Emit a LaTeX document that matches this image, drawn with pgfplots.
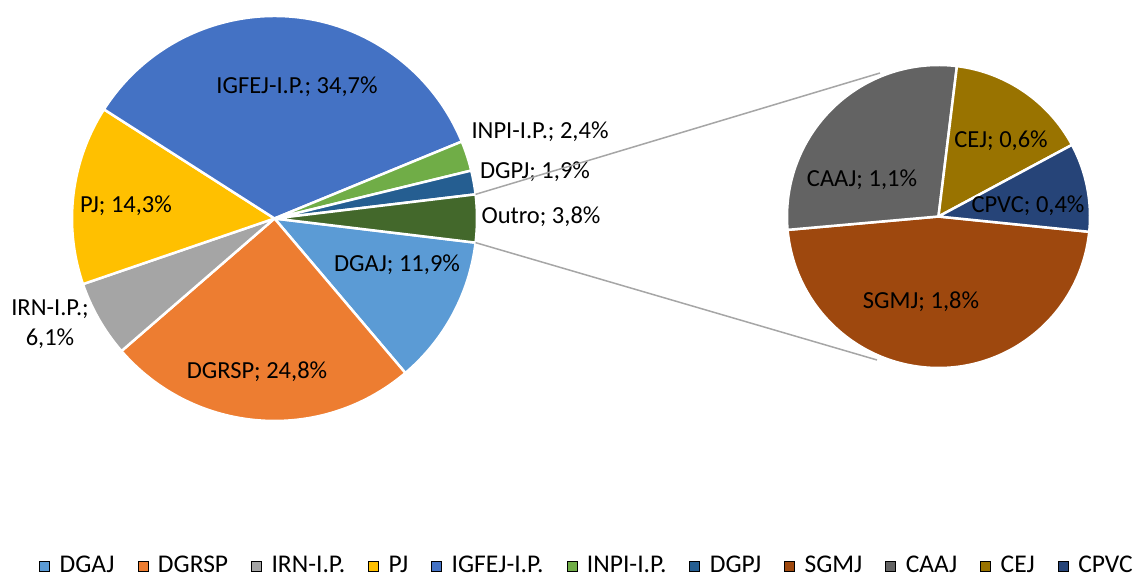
\documentclass[border=0pt]{standalone}
\usepackage{pgfplots}
\usepackage{pgfplotstable}
\pgfplotsset{compat=1.18}
\usepackage{fontspec}
\setmainfont{Carlito}

\definecolor{cDGAJ}{HTML}{5B9BD5}
\definecolor{cDGRSP}{HTML}{ED7D31}
\definecolor{cIRN}{HTML}{A5A5A5}
\definecolor{cPJ}{HTML}{FFC000}
\definecolor{cIGFEJ}{HTML}{4472C4}
\definecolor{cINPI}{HTML}{70AD47}
\definecolor{cDGPJ}{HTML}{255E91}
\definecolor{cOutro}{HTML}{43682B}
\definecolor{cSGMJ}{HTML}{9E480E}
\definecolor{cCAAJ}{HTML}{636363}
\definecolor{cCEJ}{HTML}{997300}
\definecolor{cCPVC}{HTML}{264478}
\definecolor{linegray}{HTML}{A6A6A6}

\newcommand\lbl{\fontsize{24.6}{31}\selectfont}
\newcommand\lgd{\fontsize{25.6}{30}\selectfont}

% value, colour, label centre (pixels from top left), line break in label
\pgfplotstableread{
name       value color  lx  ly  br
DGAJ       11.9  cDGAJ  397 265 0
DGRSP      24.8  cDGRSP 257 372 0
IRN-I.P.   6.1   cIRN   50  339 1
PJ         14.3  cPJ    126 206 0
IGFEJ-I.P. 34.7  cIGFEJ 297 87  0
INPI-I.P.  2.4   cINPI  540 132 0
DGPJ       1.9   cDGPJ  535 172 0
Outro      3.8   cOutro 541 217 0
}\mainpie

\pgfplotstableread{
name  value color  lx   ly  br
SGMJ  1.79  cSGMJ  921  302 0
CAAJ  1.08  cCAAJ  862  180 0
CEJ   0.58  cCEJ   1001 141 0
CPVC  0.36  cCPVC  1028 206 0
}\smallpie

% #1 table, #2 #3 centre (axis cs), #4 radius (bp), #5 start angle
\newcommand\drawpie[5]{%
  \pgfplotstablegetrowsof{#1}%
  \pgfmathtruncatemacro\nrows{\pgfplotsretval-1}%
  \def\total{0}%
  \pgfplotsforeachungrouped \i in {0,...,\nrows}{%
    \pgfplotstablegetelem{\i}{value}\of{#1}%
    \pgfmathsetmacro\total{\total+\pgfplotsretval}%
  }%
  \def\ang{#5}%
  \pgfplotsforeachungrouped \i in {0,...,\nrows}{%
    \pgfplotstablegetelem{\i}{value}\of{#1}\let\val\pgfplotsretval
    \pgfplotstablegetelem{\i}{color}\of{#1}\let\col\pgfplotsretval
    \pgfmathsetmacro\angb{\ang-360*\val/\total}%
    \edef\slice{\noexpand\filldraw[fill=\col,draw=white,line width=2.5bp,line join=round]
      (axis cs:#2,#3) -- ++(\ang:#4bp) arc[start angle=\ang,end angle=\angb,radius=#4bp] -- cycle;}%
    \slice
    \let\ang\angb
  }%
  \pgfplotsforeachungrouped \i in {0,...,\nrows}{%
    \pgfplotstablegetelem{\i}{value}\of{#1}\let\val\pgfplotsretval
    \pgfplotstablegetelem{\i}{name}\of{#1}\let\nm\pgfplotsretval
    \pgfplotstablegetelem{\i}{lx}\of{#1}\let\lx\pgfplotsretval
    \pgfplotstablegetelem{\i}{ly}\of{#1}\let\ly\pgfplotsretval
    \pgfplotstablegetelem{\i}{br}\of{#1}\let\br\pgfplotsretval
    \pgfmathsetmacro\by{569-\ly}%
    \edef\lab{\noexpand\node[font=\noexpand\lbl,align=center,anchor=base,inner sep=0pt]
      at (axis cs:\lx,\by) {\nm;\ifnum\br=1 \noexpand\\\else\space\fi
      \noexpand\pgfmathprintnumber[fixed,fixed zerofill,precision=1,use comma,assume math mode=true]{\val}\noexpand\%};}%
    \lab
  }%
}

\begin{document}
\begin{tikzpicture}
\begin{axis}[
  width=1133bp, height=576bp, scale only axis,
  xmin=0, xmax=1133, ymin=0, ymax=576,
  hide axis, clip=false,
  legend image code/.code={\fill[#1] (0bp,-6bp) rectangle (10bp,4bp);},
  legend style={at={(axis cs:586,11)}, anchor=center, draw=none, fill=none,
    font=\lgd, legend columns=-1,
    nodes={inner xsep=0pt, inner ysep=0pt},
    /tikz/every odd column/.append style={column sep=10bp},
    /tikz/every even column/.append style={column sep=23bp}},
]
\coordinate (SW) at (axis cs:0,0);
\coordinate (NE) at (axis cs:1133,576);

% Outro is centred on the right: the first slice starts just below it
\drawpie{\mainpie}{274.5}{357.5}{202.5}{-6.85}
\drawpie{\smallpie}{938.5}{359.5}{151.5}{-5.8}

\path (axis cs:274.5,357.5) ++(6.85:202.5bp) coordinate (A1);
\path (axis cs:274.5,357.5) ++(-6.85:202.5bp) coordinate (A2);
\draw[linegray, line width=1.5bp] (A1) -- (axis cs:880,503);
\draw[linegray, line width=1.5bp] (A2) -- (axis cs:877,216);

\addlegendimage{fill=cDGAJ}\addlegendentry{DGAJ}
\addlegendimage{fill=cDGRSP}\addlegendentry{DGRSP}
\addlegendimage{fill=cIRN}\addlegendentry{IRN-I.P.}
\addlegendimage{fill=cPJ}\addlegendentry{PJ}
\addlegendimage{fill=cIGFEJ}\addlegendentry{IGFEJ-I.P.}
\addlegendimage{fill=cINPI}\addlegendentry{INPI-I.P.}
\addlegendimage{fill=cDGPJ}\addlegendentry{DGPJ}
\addlegendimage{fill=cSGMJ}\addlegendentry{SGMJ}
\addlegendimage{fill=cCAAJ}\addlegendentry{CAAJ}
\addlegendimage{fill=cCEJ}\addlegendentry{CEJ}
\addlegendimage{fill=cCPVC}\addlegendentry{CPVC}
\end{axis}
\pgfresetboundingbox
\path (SW) rectangle (NE);
\end{tikzpicture}
\end{document}
